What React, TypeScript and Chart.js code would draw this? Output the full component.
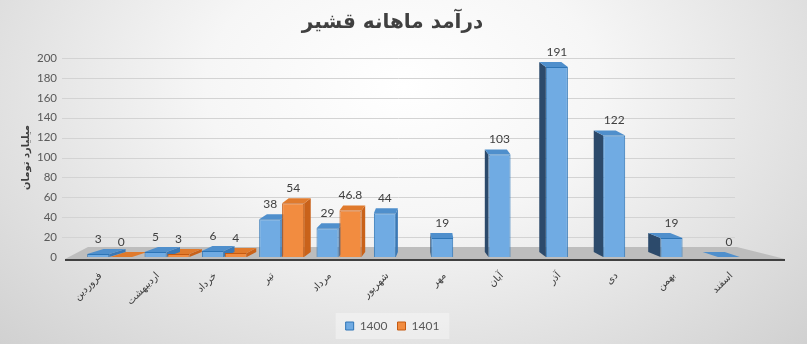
import React, { useEffect, useRef } from "react";
import { Chart, registerables } from "chart.js";

Chart.register(...registerables);

const chartTitle = "درآمد ماهانه قشیر";
const yAxisTitle = "میلیارد تومان";
const months = ["فروردین", "اردیبهشت", "خرداد", "تیر", "مرداد", "شهریور", "مهر", "آبان", "آذر", "دی", "بهمن", "اسفند"];
const seriesNames = ["1400", "1401"];
const income1400 = [3, 5, 6, 38, 29, 44, 19, 103, 191, 122, 19, 0];
const income1401: (number | null)[] = [0, 3, 4, 54, 46.8, null, null, null, null, null, null, null];
const yTicks = [0, 20, 40, 60, 80, 100, 120, 140, 160, 180, 200];

const seriesData = [income1400, income1401];
const frontColors = ["#70abe3", "#f28c40"];
const borderColors = ["#2e75b6", "#c55a11"];
const topColors = ["#4f8fcc", "#e07a2c"];
const rightSideColors = ["#3b78b5", "#c9621a"];
const leftSideColors = ["#2c4a6b", "#8a4210"];

const VANISH_X = 425;
const DEPTH_K = 0.05;
const DEPTH_DY = 5;

function poly(ctx: CanvasRenderingContext2D, pts: number[][]) {
  ctx.beginPath();
  ctx.moveTo(pts[0][0], pts[0][1]);
  for (let i = 1; i < pts.length; i++) ctx.lineTo(pts[i][0], pts[i][1]);
  ctx.closePath();
  ctx.fill();
}

const depthPlugin = {
  id: "depth3d",
  beforeDraw(chart: any) {
    const lg = chart.legend;
    if (!lg) return;
    const ctx = chart.ctx;
    ctx.save();
    ctx.fillStyle = "rgba(255,255,255,0.35)";
    const items = lg.legendHitBoxes || [];
    if (items.length) {
      const l = Math.min(...items.map((h: any) => h.left)) - 10;
      const r = Math.max(...items.map((h: any) => h.left + h.width)) + 10;
      const t = items[0].top - 7;
      ctx.fillRect(l, t, r - l, items[0].height + 14);
    }
    ctx.restore();
  },
  beforeDatasetsDraw(chart: any) {
    const { ctx, chartArea: ca, scales } = chart;
    const y = scales.y;
    ctx.save();
    ctx.strokeStyle = "#d3d3d3";
    ctx.lineWidth = 1;
    yTicks.forEach((v) => {
      if (v === 0) return;
      const py = Math.round(y.getPixelForValue(v)) + 0.5;
      ctx.beginPath();
      ctx.moveTo(ca.left - 19, py);
      ctx.lineTo(ca.right - 34, py);
      ctx.stroke();
    });
    const b = y.getPixelForValue(0);
    ctx.fillStyle = "#bdbdbd";
    poly(ctx, [
      [ca.left - 16, b + 2],
      [ca.right + 16, b + 2],
      [ca.right - 32, b - 10],
      [ca.left + 7, b - 10],
    ]);
    ctx.strokeStyle = "#404040";
    ctx.lineWidth = 2;
    ctx.beginPath();
    ctx.moveTo(ca.left - 16, b + 3);
    ctx.lineTo(ca.right + 16, b + 3);
    ctx.stroke();
    for (let d = seriesData.length - 1; d >= 0; d--) {
      const meta = chart.getDatasetMeta(d);
      meta.data.forEach((el: any, j: number) => {
        const v = seriesData[d][j];
        if (v === null || v === undefined) return;
        const p = el.getProps(["x", "y", "base", "width"], true);
        const left = p.x - p.width / 2;
        const right = p.x + p.width / 2;
        const top = Math.min(p.y, p.base);
        const bottom = Math.max(p.y, p.base);
        const ox = (VANISH_X - p.x) * DEPTH_K;
        const dy = DEPTH_DY;
        if (ox > 0) {
          ctx.fillStyle = rightSideColors[d];
          poly(ctx, [[right, top], [right + ox, top - dy], [right + ox, bottom - dy], [right, bottom]]);
        } else {
          ctx.fillStyle = leftSideColors[d];
          poly(ctx, [[left, top], [left + ox, top - dy], [left + ox, bottom - dy], [left, bottom]]);
        }
        ctx.fillStyle = topColors[d];
        poly(ctx, [[left, top], [left + ox, top - dy], [right + ox, top - dy], [right, top]]);
      });
    }
    ctx.restore();
  },
  afterDatasetsDraw(chart: any) {
    const ctx = chart.ctx;
    ctx.save();
    ctx.fillStyle = "#404040";
    ctx.font = "12px Lato, 'DejaVu Sans', sans-serif";
    ctx.textAlign = "center";
    ctx.textBaseline = "bottom";
    for (let d = 0; d < seriesData.length; d++) {
      const meta = chart.getDatasetMeta(d);
      meta.data.forEach((el: any, j: number) => {
        const v = seriesData[d][j];
        if (v === null || v === undefined) return;
        const p = el.getProps(["x", "y", "base"], true);
        const top = Math.min(p.y, p.base);
        ctx.fillText(String(v), p.x, top - DEPTH_DY - 4);
      });
    }
    ctx.restore();
  },
};

export default function App() {
  const ref = useRef<HTMLCanvasElement | null>(null);
  useEffect(() => {
    if (!ref.current) return;
    const chart = new Chart(ref.current, {
      type: "bar",
      data: {
        labels: months,
        datasets: seriesNames.map((name, i) => ({
          label: name,
          data: seriesData[i],
          backgroundColor: frontColors[i],
          borderColor: borderColors[i],
          borderWidth: 1,
          categoryPercentage: 0.8,
          barPercentage: 0.96,
        })),
      },
      options: {
        animation: false,
        responsive: false,
        maintainAspectRatio: false,
        layout: { padding: { left: 16, right: 38, top: 0, bottom: 2 } },
        plugins: {
          title: {
            display: true,
            text: chartTitle,
            color: "#404040",
            font: { family: "'DejaVu Sans'", size: 20, weight: "bold" },
            padding: { top: 11, bottom: 23 },
          },
          legend: {
            position: "bottom",
            labels: {
              boxWidth: 8,
              boxHeight: 8,
              padding: 10,
              color: "#595959",
              font: { family: "Lato", size: 12 },
            },
          },
          tooltip: { enabled: false },
        },
        scales: {
          x: {
            grid: { display: false, drawTicks: false },
            border: { display: false },
            afterFit: (s: any) => {
              s.height = 53;
            },
            ticks: {
              minRotation: 45,
              maxRotation: 45,
              autoSkip: false,
              padding: 13,
              labelOffset: -9,
              color: "#404040",
              font: { family: "'DejaVu Sans'", size: 10 },
            },
          },
          y: {
            min: 0,
            max: 200,
            grid: { display: false, drawTicks: false },
            border: { display: false },
            afterFit: (s: any) => {
              s.width = 65;
            },
            afterBuildTicks: (s: any) => {
              s.ticks = yTicks.map((v) => ({ value: v }));
            },
            ticks: {
              padding: 24,
              color: "#595959",
              font: { family: "Lato", size: 11.5 },
            },
            title: {
              display: true,
              text: yAxisTitle,
              color: "#404040",
              font: { family: "'DejaVu Sans'", size: 10, weight: "bold" },
              padding: 4,
            },
          },
        },
      },
      plugins: [depthPlugin],
    } as any);
    return () => chart.destroy();
  }, []);
  return (
    <div
      style={{
        position: "fixed",
        left: 0,
        top: 0,
        width: 807,
        height: 344,
        background:
          "radial-gradient(ellipse 70% 110% at 50% 25%, #ffffff 0%, #f6f6f6 35%, #d0d0d0 100%)",
      }}
    >
      <canvas ref={ref} width={807} height={344} style={{ display: "block" }} />
    </div>
  );
}
